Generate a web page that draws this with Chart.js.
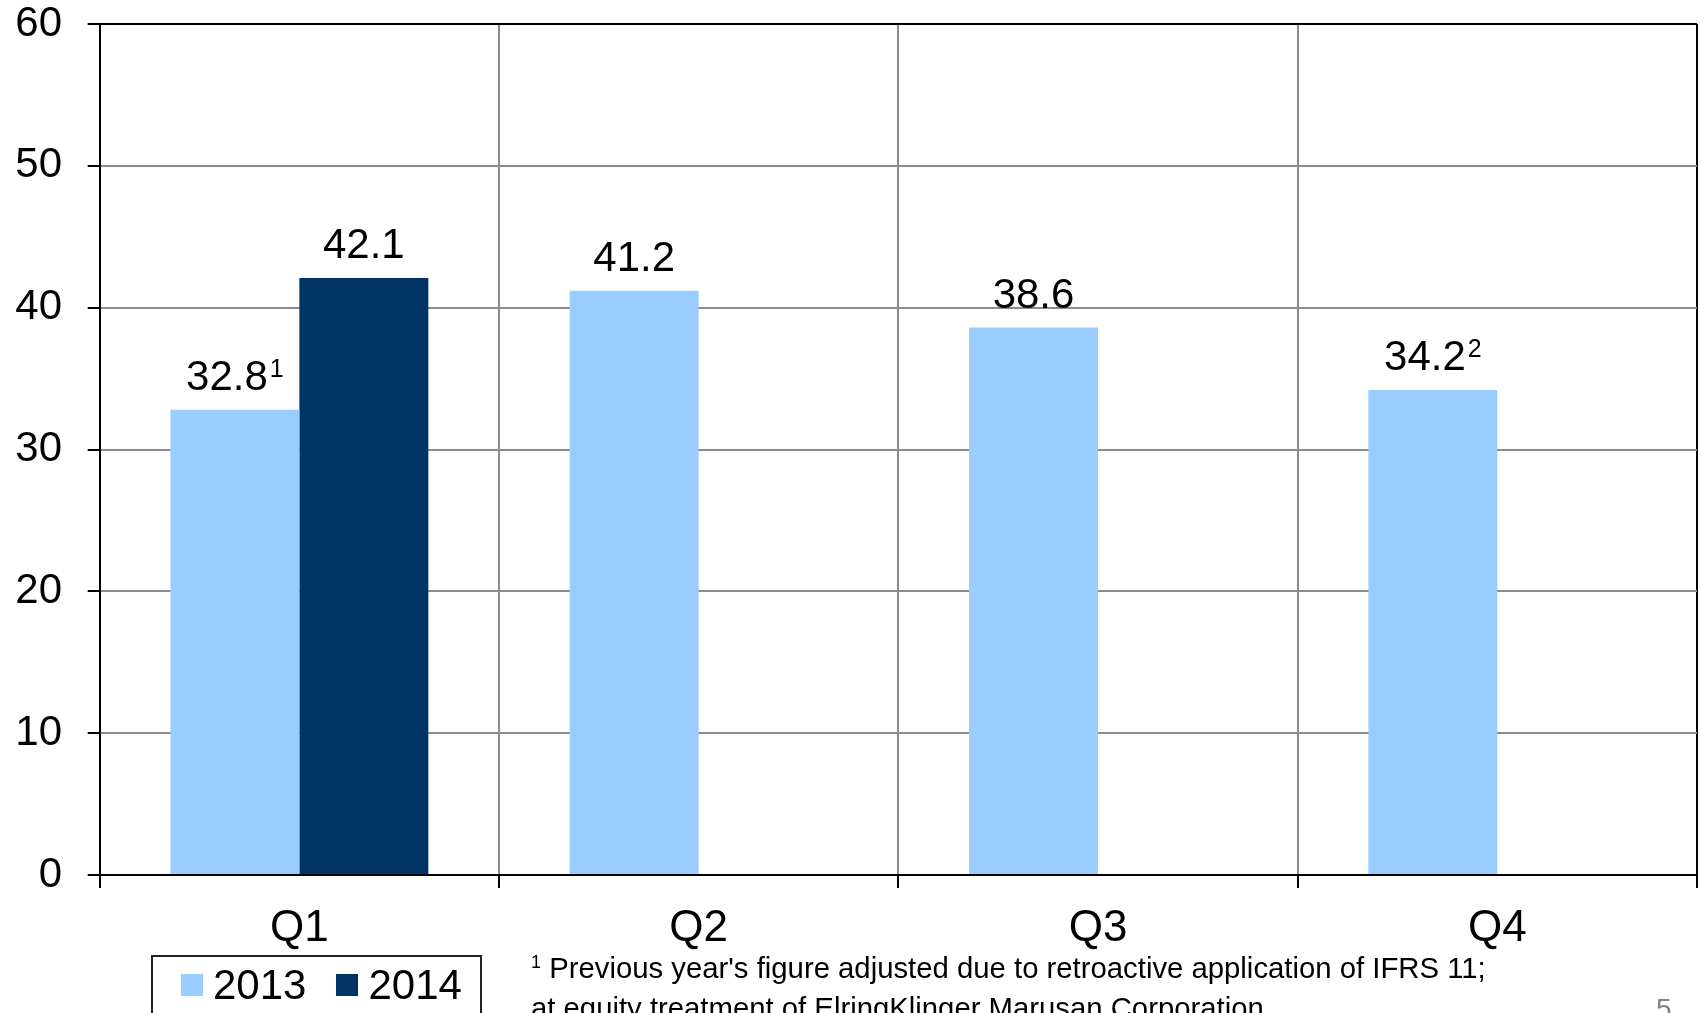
<!DOCTYPE html>
<html>
<head>
<meta charset="utf-8">
<script src="https://cdn.jsdelivr.net/npm/chart.js@4/dist/chart.umd.min.js"></script>
<style>
    html, body { margin: 0; padding: 0; background: #fff; }
    #wrap { position: relative; width: 1700px; height: 1013px; overflow: hidden; font-family: 'Liberation Sans', Arial, sans-serif; }
    #salesChart { position: absolute; left: 0; top: 0; }
    #legend {
        position: absolute; left: 151px; top: 955px; width: 331px; height: 90px;
        box-sizing: border-box; border: 2px solid #222; padding: 7px 0 0 28px;
        display: flex; align-items: flex-start; font-size: 42px; line-height: 42px;
    }
    #legend .item { display: flex; align-items: center; height: 42px; margin-right: 30px; }
    #legend .swatch { width: 22px; height: 22px; margin-right: 10px; }
    #footnote { position: absolute; left: 531px; top: 950px; font-size: 29.3px; line-height: 35px; color: #000; white-space: nowrap; }
    #footnote .sup { font-size: 18px; position: relative; top: -10px; }
    #page { position: absolute; left: 1656px; top: 991px; font-size: 28px; line-height: 35px; color: #808080; }
</style>
</head>
<body>
<div id="wrap">
    <canvas id="salesChart" width="1700" height="1013"></canvas>
    <div id="legend"></div>
    <div id="footnote"><span class="sup">1</span> Previous year's figure adjusted due to retroactive application of IFRS 11;<br>at equity treatment of ElringKlinger Marusan Corporation</div>
    <div id="page">5</div>
</div>
<script>
const quarters = ['Q1', 'Q2', 'Q3', 'Q4'];
const sales2013 = [32.8, 41.2, 38.6, 34.2];
const sales2014 = [42.1, null, null, null];
const notes2013 = ['1', '', '', '2'];
const notes2014 = ['', '', '', ''];
const yTicks = [0, 10, 20, 30, 40, 50, 60];

const chartFont = "'Liberation Sans', Arial, sans-serif";
const gridGrey = '#8c8c8c';

// value labels above each bar, with an optional footnote marker
const barLabels = {
    id: 'barLabels',
    afterDatasetsDraw(chart) {
        const ctx = chart.ctx;
        chart.data.datasets.forEach((ds, i) => {
            const meta = chart.getDatasetMeta(i);
            meta.data.forEach((bar, j) => {
                const v = ds.data[j];
                if (v === null || v === undefined) {
                    return;
                }
                const text = v.toFixed(1);
                const note = (ds.notes && ds.notes[j]) || '';
                ctx.save();
                ctx.fillStyle = '#000';
                ctx.textBaseline = 'alphabetic';
                ctx.textAlign = 'left';
                ctx.font = '42px ' + chartFont;
                const w = ctx.measureText(text).width;
                ctx.font = '25px ' + chartFont;
                const nw = note ? ctx.measureText(note).width + 2 : 0;
                const left = bar.x - (w + nw) / 2;
                const base = bar.y - 20;
                ctx.font = '42px ' + chartFont;
                ctx.fillText(text, left, base);
                if (note) {
                    ctx.font = '25px ' + chartFont;
                    ctx.fillText(note, left + w + 2, base - 13);
                }
                ctx.restore();
            });
        });
    },
};

const chart = new Chart(document.getElementById('salesChart').getContext('2d'), {
    type: 'bar',
    data: {
        labels: quarters,
        datasets: [
            { label: '2013', data: sales2013, notes: notes2013, backgroundColor: '#99ccff', categoryPercentage: 0.646, barPercentage: 1 },
            { label: '2014', data: sales2014, notes: notes2014, backgroundColor: '#003366', categoryPercentage: 0.646, barPercentage: 1 },
        ],
    },
    options: {
        responsive: false,
        devicePixelRatio: 1,
        animation: false,
        layout: { padding: { left: 0, right: 3, top: 24, bottom: 0 } },
        plugins: {
            legend: { display: false },
            tooltip: { enabled: false },
        },
        scales: {
            x: {
                offset: true,
                afterFit: (axis) => {
                    axis.height = 138;
                    axis.paddingLeft = 0;
                    axis.paddingRight = 0;
                },
                grid: {
                    offset: true,
                    color: (ctx) => ctx.type === 'scale' ? '#000' : gridGrey,
                    lineWidth: 2,
                    tickColor: '#000',
                    tickLength: 13,
                },
                border: { color: '#000', width: 2 },
                ticks: { font: { family: chartFont, size: 44 }, color: '#000', padding: 14, maxRotation: 0 },
            },
            y: {
                min: 0,
                max: 60,
                afterBuildTicks: (axis) => { axis.ticks = yTicks.map((v) => ({ value: v })); },
                afterFit: (axis) => {
                    axis.width = 99.7;
                    axis.paddingTop = 0;
                    axis.paddingBottom = 0;
                },
                grid: {
                    color: (ctx) => ctx.tick && ctx.tick.value === 60 ? '#000' : gridGrey,
                    lineWidth: 2,
                    tickColor: '#000',
                    tickLength: 12,
                },
                border: { color: '#000', width: 2 },
                ticks: { font: { family: chartFont, size: 42 }, color: '#000', padding: 25.7 },
            },
        },
    },
    plugins: [barLabels],
});

// legend built from the chart's datasets
const legendEl = document.getElementById('legend');
chart.data.datasets.forEach((ds) => {
    const item = document.createElement('span');
    item.className = 'item';
    const sw = document.createElement('span');
    sw.className = 'swatch';
    sw.style.background = ds.backgroundColor;
    item.appendChild(sw);
    item.appendChild(document.createTextNode(ds.label));
    legendEl.appendChild(item);
});
</script>
</body>
</html>
